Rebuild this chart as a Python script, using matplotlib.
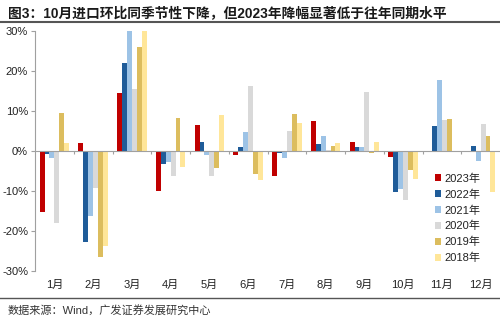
import matplotlib
matplotlib.use("Agg")
import matplotlib.pyplot as plt
import numpy as np

plt.rcParams['font.family'] = ['Liberation Sans', 'Noto Sans CJK SC']

months = ['1月', '2月', '3月', '4月', '5月', '6月', '7月', '8月', '9月', '10月', '11月', '12月']
series_names = ['2023年', '2022年', '2021年', '2020年', '2019年', '2018年']
y2023 = [-15.3, 2.1, 14.6, -9.9, 6.5, -0.9, -6.2, 7.6, 2.2, -1.4, 0.0, 0.0]
y2022 = [-0.8, -22.7, 22.1, -3.2, 2.2, 1.0, -0.4, 1.8, 1.0, -10.3, 6.2, 1.2]
y2021 = [-1.8, -16.2, 30.0, -2.7, -1.0, 4.7, -1.8, 3.7, 1.0, -9.5, 17.8, -2.5]
y2020 = [-18.1, -9.3, 15.6, -6.2, -6.3, 16.2, 5.0, 0.2, 14.7, -12.2, 7.8, 6.8]
y2019 = [9.5, -26.4, 26.1, 8.2, -4.3, -5.7, 9.2, 1.3, -0.5, -4.7, 8.0, 3.8]
y2018 = [1.9, -23.7, 30.0, -3.9, 8.9, -7.2, 7.0, 1.9, 2.2, -6.9, 0.0, -10.2]
series = [y2023, y2022, y2021, y2020, y2019, y2018]
colors = ['#C00000', '#1F5C99', '#9DC3E6', '#D9D9D9', '#DCBD5E', '#FFE699']

fig = plt.figure(figsize=(5, 3.22), dpi=100)
ax = fig.add_axes([0.07, 0.158, 0.93, 0.746])

x = np.arange(len(months))
w = 0.127
n = len(series)
for i, (vals, c, name) in enumerate(zip(series, colors, series_names)):
    ax.bar(x + (i - (n - 1) / 2) * w, vals, width=w, color=c, label=name, zorder=2)

ax.set_xlim(-0.5, 11.5)
ax.set_ylim(-30, 30)
ax.set_yticks([-30, -20, -10, 0, 10, 20, 30])
ax.set_yticklabels(['-30%', '-20%', '-10%', '0%', '10%', '20%', '30%'], fontsize=8, color='#222222')
ax.set_xticks(x)
ax.set_xticklabels(months, fontsize=8, color='#222222')
ax.tick_params(axis='x', length=0, pad=6)
ax.tick_params(axis='y', length=3, color='#A0A0A0', width=0.8, pad=2)

for s in ['top', 'right', 'bottom']:
    ax.spines[s].set_visible(False)
ax.spines['left'].set_color('#A0A0A0')
ax.spines['left'].set_linewidth(0.8)

ax.axhline(0, color='#A0A0A0', lw=0.8, zorder=3)
ax.vlines(np.arange(0.5, 11.5, 1.0), -0.8, 0, color='#A0A0A0', lw=0.8, zorder=3)

leg = ax.legend(loc='lower right', bbox_to_anchor=(0.975, 0.0), frameon=False, fontsize=8,
                handlelength=0.6, handleheight=0.6, handletextpad=0.3, labelspacing=0.5,
                borderpad=0.2)
for t in leg.get_texts():
    t.set_color('#222222')

# Title and frame lines
fig.text(0.016, 0.958, '图3：10月进口环比同季节性下降，但2023年降幅显著低于往年同期水平',
         fontsize=9.9, fontweight='bold', color='#1a1a1a', va='center', ha='left')
fig.add_artist(plt.Line2D([0, 1], [0.932, 0.932], color='#555555', lw=1.5, transform=fig.transFigure))
fig.add_artist(plt.Line2D([0, 1], [0.075, 0.075], color='#555555', lw=1.0, transform=fig.transFigure))
fig.text(0.016, 0.037, '数据来源：Wind，广发证券发展研究中心', fontsize=8, color='#333333',
         va='center', ha='left')

fig.savefig('out.png', dpi=100)
